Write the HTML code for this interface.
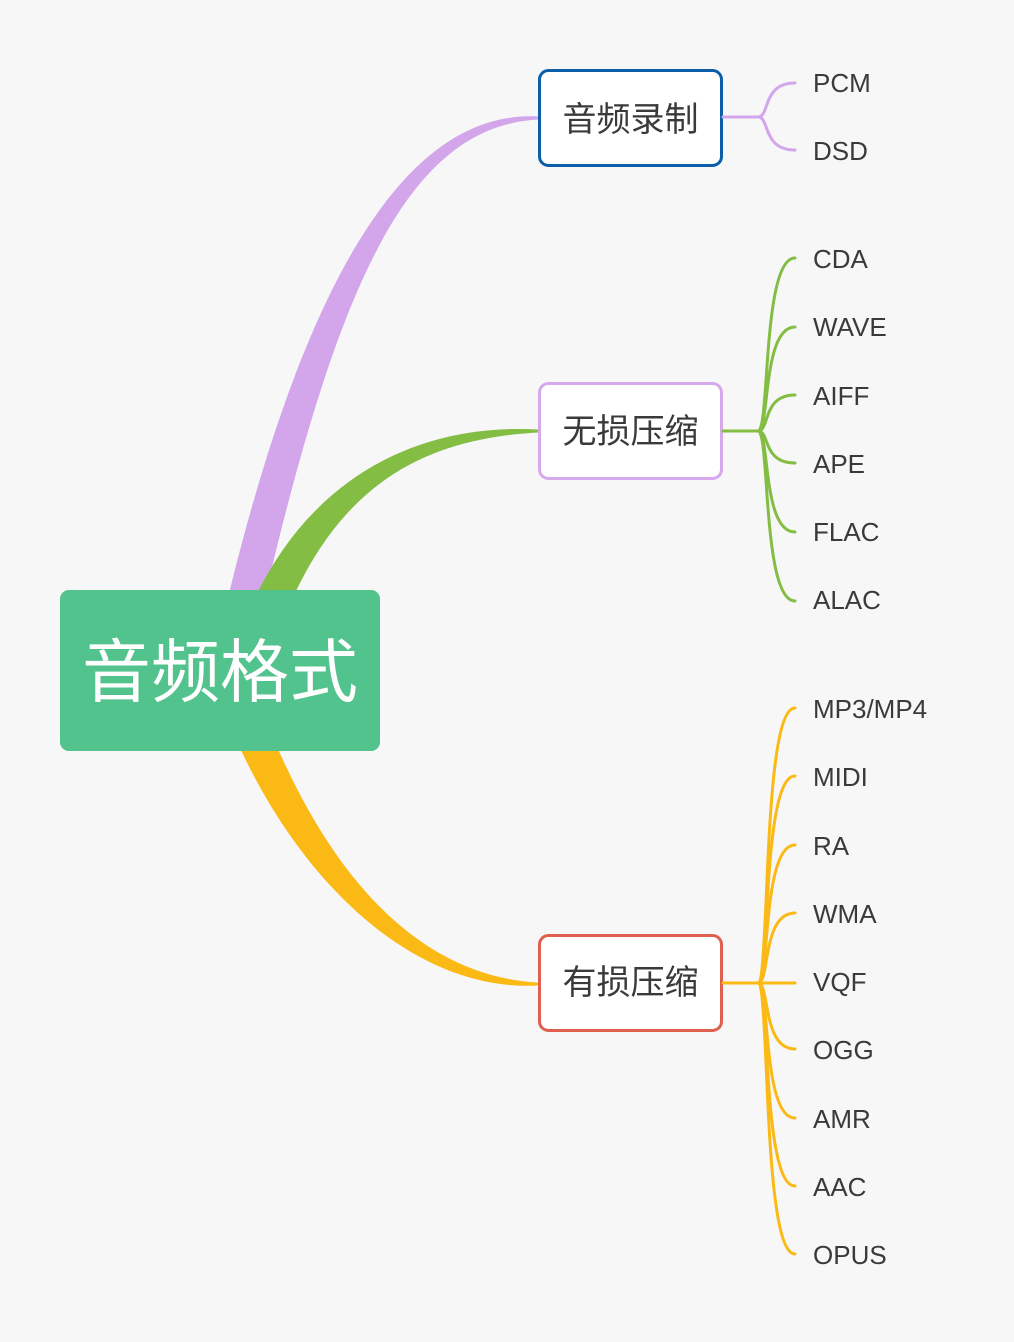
<!DOCTYPE html>
<html>
<head>
<meta charset="utf-8">
<style>
  html, body { margin:0; padding:0; background:#f7f7f7; }
  svg { display:block; }
  .leaf { font-family: "Liberation Sans", "DejaVu Sans", sans-serif; font-size:26px; fill:#3a3a3a; }
  .topic { font-family: "Liberation Sans", "Noto Sans CJK SC", sans-serif; font-size:34px; fill:#3a3a3a; }
  .root { font-family: "Liberation Sans", "Noto Sans CJK SC", sans-serif; font-size:69px; fill:#ffffff; }
</style>
</head>
<body>
<svg width="1014" height="1342" viewBox="0 0 1014 1342" xmlns="http://www.w3.org/2000/svg">
  <rect x="0" y="0" width="1014" height="1342" fill="#f7f7f7"/>

  <!-- Main tapered branches -->
  <path d="M214.4,656.1 C294.4,296.1 400,109 538,116.5 L538,119.5 C400,127 329.6,303.9 249.6,663.9 Z" fill="#d3a6eb"/>
  <path d="M232.8,654.6 C282.8,494.6 400,422 538,429.5 L538,432.5 C400,440 317.2,505.4 267.2,665.4 Z" fill="#83bd44"/>
  <path d="M215,685.8 C273,855.8 400,993 538,985.5 L538,982.5 C400,975 307,844.2 249,674.2 Z" fill="#fbb915"/>

  <!-- Root -->
  <rect x="60" y="590" width="320" height="161" rx="9" ry="9" fill="#52c38c"/>
  <text class="root" x="220" y="696" text-anchor="middle">音频格式</text>

  <!-- Topic 1 -->
  <rect x="539.5" y="70.5" width="182" height="95" rx="9" ry="9" fill="#ffffff" stroke="#0b5ea8" stroke-width="3"/>
  <text class="topic" x="630.5" y="131" text-anchor="middle">音频录制</text>

  <!-- Topic 2 -->
  <rect x="539.5" y="383.5" width="182" height="95" rx="9" ry="9" fill="#ffffff" stroke="#d6a8ec" stroke-width="3"/>
  <text class="topic" x="630.5" y="443" text-anchor="middle">无损压缩</text>

  <!-- Topic 3 -->
  <rect x="539.5" y="935.5" width="182" height="95" rx="9" ry="9" fill="#ffffff" stroke="#e0604f" stroke-width="3"/>
  <text class="topic" x="630.5" y="994" text-anchor="middle">有损压缩</text>

  <!-- Sub-branches: purple -->
  <g fill="none" stroke="#d3a6eb" stroke-width="3" stroke-linecap="round">
    <path d="M723,117 H758"/>
    <path d="M758,117 C770,117 762,83 795,83"/>
    <path d="M758,117 C770,117 762,150 795,150"/>
  </g>

  <!-- Sub-branches: green -->
  <g fill="none" stroke="#83bd44" stroke-width="3" stroke-linecap="round">
    <path d="M723,431 H758"/>
    <path d="M758,431 C770,431 762,258 795,258"/>
    <path d="M758,431 C770,431 762,327 795,327"/>
    <path d="M758,431 C770,431 762,395 795,395"/>
    <path d="M758,431 C770,431 762,463 795,463"/>
    <path d="M758,431 C770,431 762,532 795,532"/>
    <path d="M758,431 C770,431 762,601 795,601"/>
  </g>

  <!-- Sub-branches: yellow -->
  <g fill="none" stroke="#fbb915" stroke-width="3" stroke-linecap="round">
    <path d="M723,983 H758"/>
    <path d="M758,983 C770,983 762,708 795,708"/>
    <path d="M758,983 C770,983 762,776 795,776"/>
    <path d="M758,983 C770,983 762,845 795,845"/>
    <path d="M758,983 C770,983 762,913 795,913"/>
    <path d="M758,983 H795"/>
    <path d="M758,983 C770,983 762,1049 795,1049"/>
    <path d="M758,983 C770,983 762,1118 795,1118"/>
    <path d="M758,983 C770,983 762,1186 795,1186"/>
    <path d="M758,983 C770,983 762,1254 795,1254"/>
  </g>

  <!-- Leaves -->
  <text class="leaf" x="813" y="92">PCM</text>
  <text class="leaf" x="813" y="160">DSD</text>

  <text class="leaf" x="813" y="268">CDA</text>
  <text class="leaf" x="813" y="336">WAVE</text>
  <text class="leaf" x="813" y="405">AIFF</text>
  <text class="leaf" x="813" y="473">APE</text>
  <text class="leaf" x="813" y="541">FLAC</text>
  <text class="leaf" x="813" y="609">ALAC</text>

  <text class="leaf" x="813" y="718">MP3/MP4</text>
  <text class="leaf" x="813" y="786">MIDI</text>
  <text class="leaf" x="813" y="855">RA</text>
  <text class="leaf" x="813" y="923">WMA</text>
  <text class="leaf" x="813" y="991">VQF</text>
  <text class="leaf" x="813" y="1059">OGG</text>
  <text class="leaf" x="813" y="1128">AMR</text>
  <text class="leaf" x="813" y="1196">AAC</text>
  <text class="leaf" x="813" y="1264">OPUS</text>
</svg>
</body>
</html>
